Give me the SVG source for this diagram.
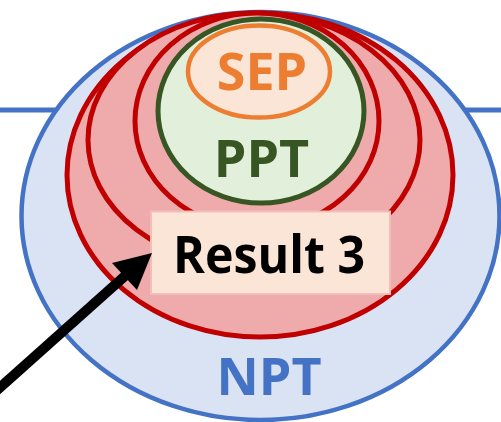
<svg xmlns="http://www.w3.org/2000/svg" width="501" height="422" viewBox="0 0 501 422">
  <style>
    .lbl { font-family: "Open Sans", "Noto Sans", "DejaVu Sans", sans-serif; font-weight: 700; font-size: 52px; text-anchor: middle; }
    .red { fill: #EFABAB; stroke: #C00000; stroke-width: 5; }
  </style>
  <!-- horizontal guide lines behind the outer set -->
  <g id="guides" stroke="#4472C4" stroke-width="5">
    <line x1="0" y1="110" x2="60" y2="110"/>
    <line x1="465" y1="110" x2="501" y2="110"/>
  </g>
  <g id="npt">
    <ellipse cx="260.5" cy="216" rx="239" ry="204" fill="#DAE3F3" stroke="#4472C4" stroke-width="4.5"/>
    <text class="lbl" x="269" y="395" fill="#4472C4">NPT</text>
  </g>
  <g id="result-sets">
    <ellipse class="red" cx="260" cy="175" rx="193" ry="162"/>
    <ellipse class="red" cx="254" cy="140" rx="166" ry="127"/>
    <ellipse class="red" cx="257" cy="121" rx="122" ry="108"/>
  </g>
  <g id="ppt">
    <ellipse cx="261" cy="111" rx="103" ry="92" fill="#E2EFDA" stroke="#375623" stroke-width="5"/>
    <text class="lbl" x="261.5" y="177" fill="#375623">PPT</text>
  </g>
  <g id="sep">
    <ellipse cx="259" cy="71.5" rx="71" ry="46" fill="#FBE5D6" stroke="#ED7D31" stroke-width="4.5"/>
    <text class="lbl" x="262" y="90" fill="#ED7D31">SEP</text>
  </g>
  <g id="result3">
    <rect x="151" y="211.5" width="239" height="82.5" fill="#FBE5D6" stroke="#F2BFB8" stroke-width="2"/>
    <text class="lbl" x="269" y="273" textLength="192" lengthAdjust="spacingAndGlyphs" fill="#000000">Result 3</text>
  </g>
  <g id="connectors">
    <line x1="-4" y1="391" x2="126" y2="275" stroke="#000000" stroke-width="10"/>
    <polygon points="152,253 112,263 137,290" fill="#000000"/>
  </g>
</svg>
